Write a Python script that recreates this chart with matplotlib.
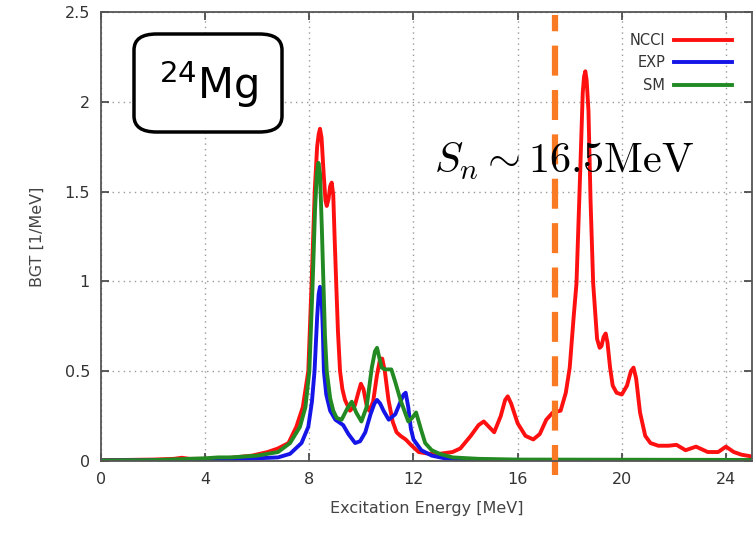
import matplotlib.pyplot as plt
from matplotlib.patches import FancyBboxPatch

plt.rcParams['mathtext.fontset'] = 'cm'

# NCCI (red)
e_ncci = [0.0, 1.0, 2.0, 2.8, 3.1, 3.4, 4.0, 5.0, 5.8, 6.4, 6.8, 7.2, 7.5, 7.75, 7.96,
          8.09, 8.21, 8.3, 8.36, 8.41, 8.47, 8.55, 8.62, 8.67, 8.74, 8.8, 8.86, 8.92, 8.97,
          9.03, 9.1, 9.18, 9.27, 9.37, 9.56, 9.75, 9.88, 9.98, 10.08, 10.2, 10.3, 10.45,
          10.6, 10.72, 10.8, 10.9, 11.04, 11.2, 11.35, 11.5, 11.7, 11.9, 12.2, 12.6, 13.0,
          13.5, 13.8, 14.2, 14.5, 14.7, 14.9, 15.1, 15.35, 15.52, 15.62, 15.75, 16.0, 16.3,
          16.6, 16.85, 17.1, 17.35, 17.65, 17.85, 18.0, 18.15, 18.26, 18.4, 18.5, 18.55,
          18.6, 18.65, 18.72, 18.8, 18.9, 19.05, 19.15, 19.22, 19.3, 19.38, 19.45, 19.55,
          19.65, 19.8, 20.0, 20.2, 20.35, 20.45, 20.55, 20.7, 20.9, 21.1, 21.4, 21.8,
          22.1, 22.45, 22.85, 23.3, 23.7, 24.0, 24.3, 24.6, 25.0]
bgt_ncci = [0.005, 0.006, 0.008, 0.012, 0.018, 0.012, 0.012, 0.018, 0.03, 0.05, 0.07, 0.10,
            0.19, 0.30, 0.50, 1.0, 1.51, 1.75, 1.82, 1.85, 1.80, 1.60, 1.45, 1.42, 1.46,
            1.53, 1.55, 1.48, 1.25, 1.0, 0.72, 0.50, 0.40, 0.34, 0.28, 0.31, 0.38, 0.43,
            0.40, 0.31, 0.28, 0.33, 0.48, 0.57, 0.57, 0.50, 0.34, 0.22, 0.16, 0.14, 0.12,
            0.09, 0.05, 0.04, 0.04, 0.05, 0.07, 0.14, 0.20, 0.22, 0.19, 0.16, 0.25, 0.34,
            0.36, 0.32, 0.21, 0.14, 0.12, 0.15, 0.23, 0.27, 0.28, 0.38, 0.52, 0.80, 0.99,
            1.60, 2.05, 2.14, 2.17, 2.12, 1.95, 1.45, 0.99, 0.68, 0.63, 0.64, 0.69, 0.71,
            0.66, 0.52, 0.42, 0.38, 0.37, 0.42, 0.50, 0.52, 0.46, 0.27, 0.14, 0.10, 0.085,
            0.085, 0.09, 0.06, 0.08, 0.05, 0.05, 0.08, 0.05, 0.035, 0.025]

# EXP (blue)
e_exp = [0, 2, 4, 5, 6, 6.8, 7.26, 7.7, 7.96, 8.1, 8.2, 8.3, 8.36, 8.41, 8.47, 8.52, 8.56,
         8.65, 8.8, 9.0, 9.3, 9.5, 9.76, 9.95, 10.15, 10.35, 10.5, 10.6, 10.72, 10.85, 11.05,
         11.3, 11.5, 11.62, 11.7, 11.8, 11.9, 12.0, 12.3, 12.7, 13.2, 14, 16, 25]
bgt_exp = [0.003, 0.004, 0.008, 0.01, 0.015, 0.02, 0.04, 0.10, 0.19, 0.33, 0.50, 0.80, 0.93,
           0.97, 0.92, 0.72, 0.50, 0.37, 0.28, 0.23, 0.20, 0.15, 0.10, 0.11, 0.16, 0.26,
           0.32, 0.34, 0.32, 0.28, 0.23, 0.26, 0.33, 0.37, 0.38, 0.30, 0.18, 0.12, 0.06,
           0.03, 0.015, 0.008, 0.004, 0.002]

# SM (green)
e_sm = [0, 2, 4, 4.5, 5, 6, 6.8, 7.26, 7.64, 7.85, 8.0, 8.13, 8.22, 8.29, 8.35, 8.41, 8.48,
        8.54, 8.6, 8.67, 8.8, 8.92, 9.05, 9.24, 9.45, 9.63, 9.8, 10.0, 10.2, 10.4, 10.52,
        10.6, 10.68, 10.78, 10.9, 11.15, 11.3, 11.5, 11.8, 11.95, 12.1, 12.3, 12.45, 12.7,
        13.0, 13.5, 14.5, 16, 25]
bgt_sm = [0.003, 0.005, 0.015, 0.02, 0.02, 0.03, 0.05, 0.10, 0.19, 0.30, 0.50, 1.0, 1.4,
          1.6, 1.66, 1.6, 1.3, 1.0, 0.70, 0.50, 0.35, 0.28, 0.24, 0.23, 0.29, 0.33, 0.27,
          0.22, 0.30, 0.52, 0.61, 0.63, 0.58, 0.52, 0.51, 0.51, 0.44, 0.34, 0.22, 0.24,
          0.27, 0.17, 0.10, 0.06, 0.04, 0.02, 0.012, 0.008, 0.006]

x_ticks = [0, 4, 8, 12, 16, 20, 24]
y_ticks = [0, 0.5, 1, 1.5, 2, 2.5]
y_ticklabels = ['0', '0.5', '1', '1.5', '2', '2.5']
s_n_line = 17.42

fig = plt.figure(figsize=(7.53, 5.34), dpi=100)
ax = fig.add_axes([101/753, 73/534, 651/753, 449/534])

ax.plot(e_ncci, bgt_ncci, color='#ff1010', lw=2.8, label='NCCI', solid_joinstyle='round')
ax.plot(e_exp, bgt_exp, color='#1515e8', lw=2.8, label='EXP', solid_joinstyle='round')
ax.plot(e_sm, bgt_sm, color='#238a23', lw=2.8, label='SM', solid_joinstyle='round')

# neutron separation energy marker
ax.axvline(s_n_line, ymin=-0.031, ymax=0.993, color='#f97a22', lw=4.5,
           linestyle=(0, (4.8, 2.3)), clip_on=False)

ax.set_xlim(0, 25)
ax.set_ylim(0, 2.5)
ax.set_xticks(x_ticks)
ax.set_yticks(y_ticks)
ax.set_yticklabels(y_ticklabels)
ax.grid(True, color='#999999', linestyle=(0, (1, 3)), lw=1)
ax.tick_params(direction='in', top=True, right=True, length=6, width=1.2,
               colors='#404040', labelsize=11.5, labelcolor='#333333', pad=8)
for s in ax.spines.values():
    s.set_color('#555555')
    s.set_linewidth(1.3)

ax.set_xlabel('Excitation Energy [MeV]', fontsize=11.5, color='#444444', labelpad=10)
ax.set_ylabel('BGT [1/MeV]', fontsize=11.5, color='#444444', labelpad=14)

leg = ax.legend(loc='upper right', bbox_to_anchor=(0.99, 0.982), frameon=False,
                markerfirst=False, fontsize=10.5, handlelength=4, labelspacing=0.5,
                handletextpad=0.6)
for t in leg.get_texts():
    t.set_color('#333333')

box = FancyBboxPatch((134/753, 1 - 132/534), 148/753, 98/534,
                     boxstyle='round,pad=0,rounding_size=0.03',
                     transform=fig.transFigure, fc='white', ec='black', lw=2.5)
fig.patches.append(box)
fig.text(209/753, 1 - 84/534, r'$^{24}$Mg', fontsize=30, ha='center', va='center',
         family='DejaVu Sans', math_fontfamily='dejavusans')

fig.text(434/753, 1 - 161/534, r'$S_n \sim 16.5\mathrm{MeV}$', fontsize=30.5,
         ha='left', va='center')

fig.savefig('out.png', dpi=100)
